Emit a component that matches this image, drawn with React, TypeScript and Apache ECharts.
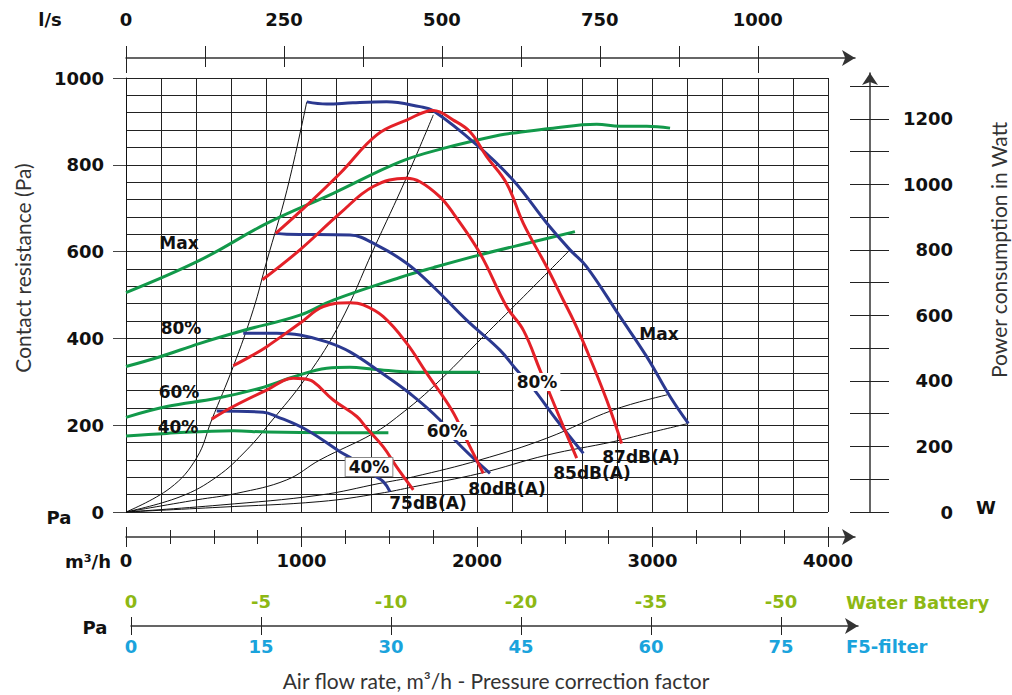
import React, { useEffect, useRef } from 'react';
import * as echarts from 'echarts';

// ---------------- DATA ----------------
// Fan curves (static pressure, Pa) vs air flow (m³/h)
const fanMaxFlow = [1030, 1144, 1293, 1485, 1675, 1749, 1998, 2205, 2397, 2530, 2625, 2815, 2967, 3100, 3204];
const fanMaxPa = [945, 940, 943, 945, 934, 925, 846, 765, 666, 604, 565, 450, 358, 266, 204];
const fan80Flow = [853, 916, 1276, 1429, 1599, 1751, 1941, 2131, 2226, 2312, 2454, 2606];
const fan80Pa = [642, 640, 638, 615, 573, 519, 442, 373, 327, 289, 212, 135];
const fan60Flow = [668, 859, 991, 1144, 1276, 1447, 1618, 1789, 1865, 2074];
const fan60Pa = [412, 412, 408, 392, 369, 323, 273, 212, 170, 89];
const fan40Flow = [517, 782, 859, 1030, 1219, 1295, 1409, 1466, 1504];
const fan40Pa = [233, 230, 220, 189, 139, 121, 85, 70, 47];

// Sound level curves (Pa) vs air flow
const db87Flow = [853, 991, 1219, 1429, 1599, 1751, 1865, 1960, 2055, 2169, 2264, 2397, 2492, 2549, 2625, 2739, 2824];
const db87Pa = [642, 692, 780, 869, 903, 925, 903, 876, 819, 757, 665, 565, 488, 442, 373, 258, 158];
const db85Flow = [777, 991, 1219, 1409, 1599, 1675, 1789, 1865, 2017, 2169, 2264, 2359, 2406, 2492, 2568];
const db85Pa = [535, 604, 688, 750, 769, 761, 726, 688, 596, 473, 419, 327, 281, 197, 124];
const db80Flow = [611, 707, 802, 991, 1124, 1276, 1352, 1466, 1599, 1713, 1856, 1941, 2036];
const db80Pa = [337, 358, 381, 435, 473, 482, 477, 450, 389, 320, 235, 166, 89];
const db75Flow = [488, 611, 802, 953, 1010, 1067, 1181, 1315, 1372, 1466, 1542, 1637];
const db75Pa = [214, 243, 281, 308, 307, 300, 258, 220, 193, 150, 104, 51];

// Power consumption curves (W) vs air flow
const powMaxFlow = [0, 422, 802, 1181, 1561, 1808, 2131, 2226, 2416, 2682, 2815, 2967, 3100];
const powMaxW = [670, 769, 881, 973, 1069, 1110, 1151, 1158, 1171, 1184, 1178, 1178, 1172];
const pow80Flow = [0, 194, 422, 668, 991, 1181, 1561, 1751, 2017, 2321, 2558];
const pow80W = [444, 474, 515, 554, 601, 647, 716, 746, 785, 825, 856];
const pow60Flow = [0, 232, 517, 764, 953, 1144, 1276, 1409, 1656, 2017];
const pow60W = [289, 322, 347, 378, 412, 439, 442, 436, 427, 427];
const pow40Flow = [0, 232, 611, 802, 1181, 1495];
const pow40W = [232, 240, 248, 244, 242, 242];

// System (duct) curves (Pa) vs air flow
const sys1Flow = [0, 251, 403, 488, 611, 725, 802, 916, 1030];
const sys1Pa = [0, 55, 125, 212, 335, 466, 578, 740, 945];
const sys2Flow = [0, 308, 517, 688, 820, 1030, 1219, 1409, 1599, 1751];
const sys2Pa = [0, 35, 81, 143, 205, 312, 435, 604, 771, 915];
const sys3Flow = [0, 403, 631, 916, 1105, 1409, 1561, 1751, 2036, 2245, 2530];
const sys3Pa = [0, 28, 43, 74, 120, 181, 224, 289, 404, 488, 604];
const sys4Flow = [0, 536, 1105, 1447, 1637, 2017, 2397, 2776, 3084];
const sys4Pa = [0, 16, 39, 66, 81, 120, 170, 235, 270];
const sys5Flow = [0, 536, 1105, 1447, 1637, 2017, 2397, 2776, 2967, 3204];
const sys5Pa = [0, 11, 24, 43, 58, 89, 131, 162, 181, 204];

// Axis ticks / labels
const paLabels = [0, 200, 400, 600, 800, 1000];
const flowTicks = [0, 250, 500, 750, 1000, 1250, 1500, 1750, 2000, 2250, 2500, 2750, 3000, 3250, 3500, 3750, 4000];
const flowLabels = [0, 1000, 2000, 3000, 4000];
const lsTicks = [0, 125, 250, 375, 500, 625, 750, 875, 1000];
const lsLabels = [0, 250, 500, 750, 1000];
const lsMajor = [0, 1000];
const powerTicks = [0, 100, 200, 300, 400, 500, 600, 700, 800, 900, 1000, 1100, 1200, 1300];
const powerLabels = [0, 200, 400, 600, 800, 1000, 1200];
const filterValues = [0, 15, 30, 45, 60, 75];
const waterBattery = ['0', '-5', '-10', '-20', '-35', '-50'];

// ---------------- STYLE / LAYOUT ----------------
const FONT = 'DejaVu Sans';
const TITLE_FONT = 'Lato';
const BLUE = '#2B3990';
const RED = '#E42128';
const GREEN = '#12994A';
const LIME = '#8DB814';
const CYAN = '#1AA3DC';
const INK = '#111';
const GRID_COLOR = '#222';

const PLOT = { left: 126, top: 78, width: 702, height: 434 };
const FLOW_MAX = 4000;
const PA_MAX = 1000;
const PX_PER_FLOW = PLOT.width / FLOW_MAX; // px per m³/h
const PX_PER_W = 0.32755; // px per W on the right-hand scale
const POWER_MAX_MAIN = PLOT.height / PX_PER_W;
const AXIS_END = 855; // centre of arrow heads of the horizontal axes
const LS_PX = PX_PER_FLOW * 3.6;
const POWER_AXIS_TOP = 73;
const POWER_AXIS_MAX = (PLOT.top + PLOT.height - POWER_AXIS_TOP) / PX_PER_W;
const CORR_LEFT = 131;
const CORR_PX = 130 / 15;
const CORR_END = 858;

const plain = (v: number) => String(Math.round(v));
const num = { fontFamily: FONT, fontWeight: 'bold' as const, fontSize: 18, color: INK, formatter: plain };

const zip = (a: number[], b: number[]) => a.map((v, i) => [v, b[i]]);

const curveLabels: { text: string; x: number; y: number; box?: boolean; border?: boolean }[] = [
  { text: 'Max', x: 179, y: 243 },
  { text: '80%', x: 181, y: 328 },
  { text: '60%', x: 179, y: 392 },
  { text: '40%', x: 178, y: 427 },
  { text: 'Max', x: 659, y: 334 },
  { text: '80%', x: 537, y: 382, box: true },
  { text: '60%', x: 447, y: 431, box: true },
  { text: '40%', x: 369, y: 467, box: true, border: true },
  { text: '75dB(A)', x: 428, y: 503 },
  { text: '80dB(A)', x: 507, y: 489 },
  { text: '85dB(A)', x: 592, y: 473 },
  { text: '87dB(A)', x: 641, y: 457 },
];

function buildOption(): any {
  const gridBase = { outerBoundsMode: 'none', containLabel: false };
  const powerGrid = { ...gridBase, left: 870, top: POWER_AXIS_TOP, width: 10, height: PLOT.top + PLOT.height - POWER_AXIS_TOP };
  const lsGrid = { ...gridBase, left: 126, top: 48, width: AXIS_END - 126, height: 10 };
  const flowGrid = { ...gridBase, left: 126, top: 527, width: AXIS_END - 126, height: 10 };
  const corrGrid = { ...gridBase, left: CORR_LEFT, top: 616, width: CORR_END - CORR_LEFT, height: 10 };
  const grids: any[] = [
    { ...gridBase, ...PLOT }, // 0 main
    powerGrid, powerGrid, // 1, 2
    lsGrid, lsGrid, lsGrid, // 3, 4, 5
    flowGrid, flowGrid, flowGrid, flowGrid, // 6..9
    corrGrid, corrGrid, // 10, 11
    { ...gridBase, ...PLOT }, // 12 horizontal grid lines every 40 Pa
  ];

  const hidden = (gridIndex: number) => ({ gridIndex, type: 'value', show: false, min: 0, max: 1 });
  const arrowLine = (symbolSize: number[]) => ({
    show: true,
    symbol: ['none', 'arrow'],
    symbolSize,
    lineStyle: { color: '#333', width: 1.5 },
  });
  const noLine = { show: false };
  const tickStyle = { color: '#222', width: 1 };

  const flowMaxAxis = (AXIS_END - 126) / PX_PER_FLOW;
  const lsMaxAxis = (AXIS_END - 126) / LS_PX;
  const corrMax = (CORR_END - CORR_LEFT) / CORR_PX;

  const tickOnly = (gridIndex: number, position: string, max: number, values: number[], length: number, inside: boolean) => ({
    gridIndex, type: 'value', position, min: 0, max,
    axisLine: noLine,
    axisTick: { show: true, inside, customValues: values, length, lineStyle: tickStyle },
    axisLabel: { show: false }, splitLine: { show: false },
  });

  const xAxis: any[] = [
    {
      gridIndex: 0, type: 'value', min: 0, max: FLOW_MAX, interval: 200,
      axisLine: noLine, axisTick: { show: false }, axisLabel: { show: false },
      splitLine: { show: true, lineStyle: { color: GRID_COLOR, width: 1 } },
    },
    hidden(1),
    hidden(2),
    {
      gridIndex: 3, type: 'value', position: 'top', min: 0, max: lsMaxAxis,
      axisLine: arrowLine([12, 13]),
      axisTick: { show: true, customValues: lsTicks, length: 12, lineStyle: tickStyle },
      axisLabel: { show: true, customValues: lsLabels, margin: 20, ...num },
      splitLine: { show: false },
    },
    tickOnly(4, 'top', lsMaxAxis, lsTicks, 9, true),
    tickOnly(5, 'top', lsMaxAxis, lsMajor, 15, true),
    {
      gridIndex: 6, type: 'value', position: 'bottom', min: 0, max: flowMaxAxis,
      axisLine: arrowLine([12, 13]),
      axisTick: { show: true, customValues: flowTicks, length: 7, lineStyle: tickStyle },
      axisLabel: { show: true, customValues: flowLabels, margin: 14, ...num },
      splitLine: { show: false },
    },
    tickOnly(7, 'bottom', flowMaxAxis, flowTicks, 7, true),
    tickOnly(8, 'bottom', flowMaxAxis, flowLabels, 10, false),
    tickOnly(9, 'bottom', flowMaxAxis, flowLabels, 10, true),
    {
      gridIndex: 10, type: 'value', position: 'bottom', min: 0, max: corrMax,
      axisLine: arrowLine([12, 13]),
      axisTick: { show: true, customValues: filterValues, length: 9, lineStyle: tickStyle },
      axisLabel: { show: true, customValues: filterValues, margin: 11, ...num, color: CYAN },
      splitLine: { show: false },
    },
    {
      gridIndex: 11, type: 'value', position: 'bottom', min: 0, max: corrMax,
      axisLine: noLine,
      axisTick: { show: true, inside: true, customValues: filterValues, length: 9, lineStyle: tickStyle },
      axisLabel: {
        show: true, inside: true, customValues: filterValues, margin: 16, ...num, color: LIME,
        formatter: (v: number) => waterBattery[filterValues.indexOf(v)] ?? '',
      },
      splitLine: { show: false },
    },
    hidden(12),
  ];

  const yAxis: any[] = [
    {
      gridIndex: 0, type: 'value', min: 0, max: PA_MAX, interval: 200, position: 'left',
      axisLine: { show: true, lineStyle: { color: INK, width: 1 } },
      axisTick: { show: true, customValues: paLabels, length: 13, lineStyle: { color: '#444' } },
      axisLabel: { show: true, customValues: paLabels, margin: 22, ...num },
      splitLine: { show: false },
    },
    { gridIndex: 0, type: 'value', show: false, min: 0, max: POWER_MAX_MAIN, position: 'right' },
    {
      gridIndex: 1, type: 'value', position: 'left', min: 0, max: POWER_AXIS_MAX,
      axisLine: arrowLine([12, 12]),
      axisTick: { show: true, customValues: powerTicks, length: 20, lineStyle: tickStyle },
      axisLabel: { show: false }, splitLine: { show: false },
    },
    {
      gridIndex: 2, type: 'value', position: 'left', min: 0, max: POWER_AXIS_MAX,
      axisLine: noLine,
      axisTick: { show: true, inside: true, customValues: powerTicks, length: 19, lineStyle: tickStyle },
      axisLabel: { show: true, inside: true, customValues: powerLabels, margin: 83, align: 'right', ...num },
      splitLine: { show: false },
    },
  ];
  for (let g = 3; g <= 11; g++) yAxis.push(hidden(g));
  yAxis.push({
    gridIndex: 12, type: 'value', min: 0, max: PA_MAX, interval: 40,
    axisLine: noLine, axisTick: { show: false }, axisLabel: { show: false },
    splitLine: { show: true, lineStyle: { color: GRID_COLOR, width: 1 } },
  });

  const line = (name: string, data: number[][], color: string, width: number, yIdx: number, z: number) => ({
    name, type: 'line', xAxisIndex: 0, yAxisIndex: yIdx, data,
    showSymbol: false, symbol: 'none', smooth: 0.4,
    lineStyle: { color, width, cap: 'butt', join: 'round' }, itemStyle: { color }, z, silent: true,
  });

  const series = [
    line('System 1', zip(sys1Flow, sys1Pa), INK, 1, 0, 2),
    line('System 2', zip(sys2Flow, sys2Pa), INK, 1, 0, 2),
    line('System 3', zip(sys3Flow, sys3Pa), INK, 1, 0, 2),
    line('System 4', zip(sys4Flow, sys4Pa), INK, 1, 0, 2),
    line('System 5', zip(sys5Flow, sys5Pa), INK, 1, 0, 2),
    line('Power Max', zip(powMaxFlow, powMaxW), GREEN, 3, 1, 3),
    line('Power 80%', zip(pow80Flow, pow80W), GREEN, 3, 1, 3),
    line('Power 60%', zip(pow60Flow, pow60W), GREEN, 3, 1, 3),
    line('Power 40%', zip(pow40Flow, pow40W), GREEN, 3, 1, 3),
    line('Fan Max', zip(fanMaxFlow, fanMaxPa), BLUE, 3, 0, 4),
    line('Fan 80%', zip(fan80Flow, fan80Pa), BLUE, 3, 0, 4),
    line('Fan 60%', zip(fan60Flow, fan60Pa), BLUE, 3, 0, 4),
    line('Fan 40%', zip(fan40Flow, fan40Pa), BLUE, 3, 0, 4),
    line('87dB(A)', zip(db87Flow, db87Pa), RED, 3, 0, 5),
    line('85dB(A)', zip(db85Flow, db85Pa), RED, 3, 0, 5),
    line('80dB(A)', zip(db80Flow, db80Pa), RED, 3, 0, 5),
    line('75dB(A)', zip(db75Flow, db75Pa), RED, 3, 0, 5),
  ];

  const txt = (text: string, x: number, y: number, extra: any = {}, style: any = {}) => ({
    type: 'text', x, y, z: 100, ...extra,
    style: {
      text, fill: INK, fontFamily: FONT, fontWeight: 'bold', fontSize: 18,
      align: 'center', verticalAlign: 'middle', ...style,
    },
  });

  const titleStyle = { fontFamily: TITLE_FONT, fontWeight: 'normal', fontSize: 21, fill: '#333' };

  const graphic: any[] = [
    ...curveLabels.map((l) =>
      txt(l.text, l.x, l.y, {}, {
        fontSize: 17,
        ...(l.box ? { backgroundColor: '#fff', padding: [1, 3, 0, 3] } : {}),
        ...(l.border ? { borderColor: '#888', borderWidth: 1 } : {}),
      })
    ),
    txt('l/s', 50, 19),
    txt('Pa', 59, 517),
    txt('m³/h', 88, 561),
    txt('W', 986, 507),
    txt('Pa', 95, 627),
    txt('Water Battery', 846, 602, {}, { align: 'left', fill: LIME }),
    txt('F5-filter', 846, 646, {}, { align: 'left', fill: CYAN }),
    txt('Contact resistance (Pa)', 22, 268, { rotation: Math.PI / 2 }, titleStyle),
    txt('Power consumption in Watt', 998, 250, { rotation: Math.PI / 2 }, titleStyle),
    txt('Air flow rate, m³/h - Pressure correction factor', 496, 680, {}, titleStyle),
  ];

  return {
    animation: false,
    backgroundColor: '#ffffff',
    grid: grids,
    xAxis,
    yAxis,
    series,
    graphic,
  };
}

export default function App() {
  const ref = useRef<HTMLDivElement>(null);
  useEffect(() => {
    document.body.style.margin = '0';
    if (!ref.current) return;
    const chart = echarts.init(ref.current, undefined, { renderer: 'svg' });
    chart.setOption(buildOption());
    return () => chart.dispose();
  }, []);
  return <div ref={ref} style={{ width: 1012, height: 695 }} />;
}
